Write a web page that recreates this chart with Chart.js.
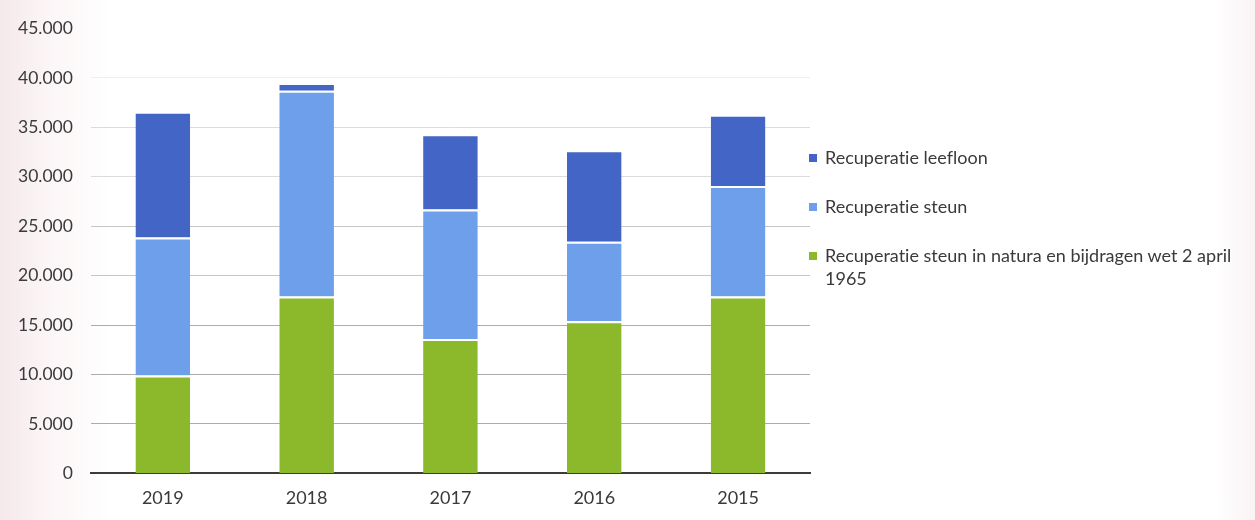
<!DOCTYPE html>
<html>
<head>
<meta charset="utf-8">
<script src="https://cdn.jsdelivr.net/npm/chart.js@4"></script>
<style>
  html, body {
    margin: 0;
    padding: 0;
  }
  body {
    width: 1255px;
    height: 520px;
    position: relative;
    overflow: hidden;
    background: linear-gradient(to right, #f4e8eb 0px, #fbf5f6 45px, #ffffff 110px, #ffffff 1215px, #f9f3f4 1255px);
    font-family: Lato, "Open Sans", sans-serif;
  }
  #recup {
    position: absolute;
    left: 0;
    top: 0;
  }
  #legend {
    position: absolute;
    left: 807px;
    top: 146px;
    margin: 0;
    padding: 0;
    list-style: none;
    color: #3a3a3a;
    font-size: 18px;
    line-height: 23px;
    font-variant-ligatures: none;
  }
  #legend li {
    position: relative;
    padding-left: 18px;
    margin-bottom: 26px;
    width: 440px;
  }
  #legend li span.box {
    position: absolute;
    left: 2px;
    top: 8px;
    width: 8px;
    height: 8px;
  }
</style>
</head>
<body>
<canvas id="recup" width="1255" height="520"></canvas>
<ul id="legend"></ul>
<script>
const years = ["2019", "2018", "2017", "2016", "2015"];
const leefloon = [12720, 780, 7610, 9260, 7200];
const steun = [13950, 20800, 13100, 8030, 11170];
const natura = [9900, 17900, 13600, 15400, 17900];
const seriesNames = [
  "Recuperatie steun in natura en bijdragen wet 2 april 1965",
  "Recuperatie steun",
  "Recuperatie leefloon",
];
const yTicks = [0, 5000, 10000, 15000, 20000, 25000, 30000, 35000, 40000, 45000];

// 45000 -> "45.000"
function dotted(v) {
  return String(v).replace(/\B(?=(\d{3})+(?!\d))/g, ".");
}

// gridlines fade out towards the top of the plot
function gridColor(v) {
  if (v === 0 || v >= 45000) return "rgba(0,0,0,0)";
  if (v <= 15000) return "#acacac";
  if (v <= 25000) return "#c6c6c6";
  if (v <= 35000) return "#dcdcdc";
  return "#eeeeee";
}

Chart.defaults.font.family = "Lato, 'Open Sans', sans-serif";
Chart.defaults.font.size = 17.5;
Chart.defaults.color = "#3a3a3a";

const sepBorder = { top: 2, left: 0, right: 0, bottom: 0 };

const chart = new Chart(document.getElementById("recup"), {
  type: "bar",
  data: {
    labels: years,
    datasets: [
      {
        label: seriesNames[0],
        data: natura,
        backgroundColor: "#8cb92b",
        borderColor: "#ffffff",
        borderWidth: sepBorder,
        borderSkipped: false,
      },
      {
        label: seriesNames[1],
        data: steun,
        backgroundColor: "#6d9fea",
        borderColor: "#ffffff",
        borderWidth: sepBorder,
        borderSkipped: false,
      },
      {
        label: seriesNames[2],
        data: leefloon,
        backgroundColor: "#4366c6",
        borderColor: "#ffffff",
        borderWidth: sepBorder,
        borderSkipped: false,
      },
    ],
  },
  options: {
    responsive: false,
    animation: false,
    devicePixelRatio: 1,
    layout: {
      padding: { left: 0, right: 445, top: 20, bottom: -3 },
    },
    datasets: {
      bar: {
        categoryPercentage: 1,
        barPercentage: 0.38,
      },
    },
    plugins: {
      legend: { display: false },
      tooltip: { enabled: false },
    },
    scales: {
      x: {
        stacked: true,
        grid: { display: false, drawTicks: false },
        border: { display: true, color: "#3c3c3c", width: 2 },
        ticks: { padding: 14, font: { size: 18 } },
      },
      y: {
        stacked: true,
        min: 0,
        max: 45000,
        afterBuildTicks: (axis) => {
          axis.ticks = yTicks.map((v) => ({ value: v }));
        },
        grid: {
          drawTicks: false,
          color: (ctx) => gridColor(ctx.tick ? ctx.tick.value : 0),
          lineWidth: 1,
        },
        border: { display: false },
        ticks: {
          padding: 18,
          callback: (v) => dotted(v),
        },
      },
    },
  },
});

// series list on the right, top series first
const legendEl = document.getElementById("legend");
const legendLines = [
  ["Recuperatie leefloon"],
  ["Recuperatie steun"],
  ["Recuperatie steun in natura en bijdragen wet 2 april", "1965"],
];
chart.data.datasets
  .slice()
  .reverse()
  .forEach((ds, i) => {
    const li = document.createElement("li");
    const box = document.createElement("span");
    box.className = "box";
    box.style.background = ds.backgroundColor;
    li.appendChild(box);
    legendLines[i].forEach((line, j) => {
      if (j > 0) li.appendChild(document.createElement("br"));
      li.appendChild(document.createTextNode(line));
    });
    legendEl.appendChild(li);
  });
</script>
</body>
</html>
